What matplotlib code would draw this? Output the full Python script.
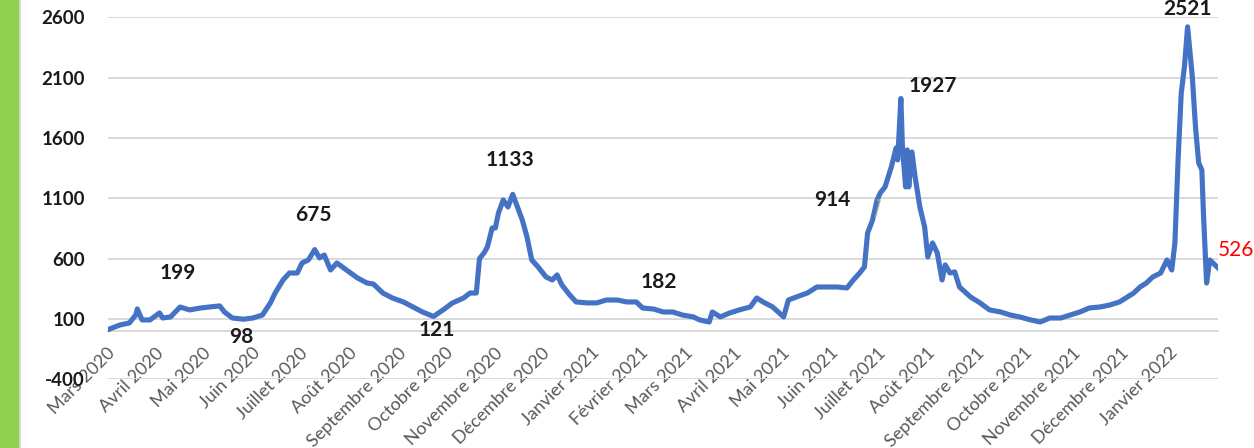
import matplotlib
matplotlib.use("Agg")
import matplotlib.pyplot as plt
import pandas as pd
from matplotlib.patches import Rectangle
from matplotlib.lines import Line2D

plt.rcParams['font.family'] = ['Lato', 'DejaVu Sans']

# ---- data (days counted from 1 March 2020, daily cases)
day = [-3, 5, 11, 15, 16, 19, 24, 30, 32, 37, 43, 49, 56, 62, 68, 71, 76, 83, 89, 95,
       100, 103, 108, 112, 117, 120, 124, 128, 131, 134, 138, 142, 148, 155, 161, 165,
       171, 177, 184, 190, 196, 203, 209, 215, 222, 226, 230, 232, 235, 237, 240, 242,
       244, 247, 250, 253, 256, 259, 262, 265, 269, 274, 278, 281, 284, 289, 293, 300,
       306, 312, 319, 325, 331, 335, 342, 348, 354, 360, 367, 371, 377, 379, 384, 390,
       396, 403, 407, 411, 417, 424, 427, 432, 439, 445, 451, 458, 464, 468, 472, 475,
       477, 480, 483, 485, 488, 490, 492, 495, 496, 498, 499, 501, 502, 503, 505, 507,
       510, 513, 515, 518, 521, 524, 526, 529, 532, 535, 542, 548, 554, 561, 567, 573,
       580, 586, 592, 599, 605, 611, 617, 624, 630, 636, 641, 645, 649, 653, 657, 662,
       666, 669, 671, 673, 675, 677, 679, 682, 684, 686, 688, 689, 691, 693, 695, 698]
cases = [9, 50, 67, 133, 183, 92, 92, 150, 108, 117, 199, 175, 191, 200, 208, 158, 108, 98, 108, 133,
         233, 315, 423, 481, 481, 564, 589, 675, 606, 630, 506, 564, 506, 440, 398, 390,
         315, 274, 241, 200, 158, 121, 175, 233, 274, 315, 315, 600, 650, 697, 854, 854,
         979, 1086, 1028, 1133, 1028, 921, 780, 589, 531, 448, 423, 465, 382, 299, 241, 233,
         233, 257, 257, 241, 241, 191, 182, 158, 158, 133, 117, 92, 75, 158, 117, 150,
         175, 200, 274, 241, 200, 117, 257, 282, 315, 365, 365, 365, 357, 423, 481, 531,
         813, 914, 1086, 1144, 1194, 1277, 1360, 1517, 1418, 1927, 1525, 1194, 1501, 1194, 1484, 1277,
         1028, 863, 614, 730, 647, 423, 548, 481, 490, 365, 282, 233, 175, 158, 133, 117,
         92, 75, 108, 108, 133, 158, 191, 200, 216, 241, 282, 315, 365, 398, 448, 481,
         589, 506, 730, 1418, 1973, 2188, 2521, 2106, 1691, 1393, 1335, 979, 398, 589, 564, 526]

month_labels = ['Mars 2020', 'Avril 2020', 'Mai 2020', 'Juin 2020', 'Juillet 2020', 'Août 2020',
                'Septembre 2020', 'Octobre 2020', 'Novembre 2020', 'Décembre 2020',
                'Janvier 2021', 'Février 2021', 'Mars 2021', 'Avril 2021', 'Mai 2021',
                'Juin 2021', 'Juillet 2021', 'Août 2021', 'Septembre 2021', 'Octobre 2021',
                'Novembre 2021', 'Décembre 2021', 'Janvier 2022']
y_ticks = [-400, 100, 600, 1100, 1600, 2100, 2600]

start = pd.Timestamp('2020-03-01')
month_starts = pd.date_range('2020-03-01', '2022-01-01', freq='MS')
tick_days = [(d - start).days for d in month_starts]

fig = plt.figure(figsize=(12.54, 4.48), dpi=100)
ax = fig.add_axes([108 / 1254, 1 - 379.3 / 448, (1218 - 108) / 1254, (379.3 - 17.3) / 448])

# left green band
fig.patches.append(Rectangle((0, 0), 19 / 1254, 1, transform=fig.transFigure,
                             color='#92D050', zorder=0))
fig.lines.append(Line2D([20 / 1254, 20 / 1254], [0, 1], transform=fig.transFigure,
                        color='#D9D9D9', lw=1.2))

ax.plot(day, cases, color='#4472C4', lw=3.7, solid_joinstyle='round', zorder=3)

ax.set_xlim(-2.5, 698.2)
ax.set_ylim(-400, 2600)
ax.set_yticks(y_ticks)
ax.set_yticklabels([str(v) for v in y_ticks], fontsize=13.5, fontweight='bold', color='#1a1a1a')
ax.grid(axis='y', color='#D9D9D9', lw=1.4)
ax.set_axisbelow(True)
for s in ['top', 'right', 'left']:
    ax.spines[s].set_visible(False)
ax.spines['bottom'].set_position(('data', 0))
ax.spines['bottom'].set_color('#D9D9D9')
ax.spines['bottom'].set_linewidth(1.4)
ax.tick_params(axis='y', length=0, pad=16.5)
ax.tick_params(axis='x', length=0, pad=14)
ax.set_xticks(tick_days)
ax.set_xticklabels(month_labels, rotation=45, ha='right', va='center',
                   rotation_mode='anchor', fontsize=13, color='#595959')

lab = dict(fontsize=15, fontweight='bold', color='#1a1a1a', ha='center', va='center')
ax.text(41.7, 481, '199', **lab)
ax.text(81.4, -49, '98', **lab)
ax.text(127, 962, '675', **lab)
ax.text(205, 9, '121', **lab)
ax.text(251, 1418, '1133', **lab)
ax.text(345, 407, '182', **lab)
ax.text(518, 2031, '1927', **lab)
ax.text(679, 2670, '2521', clip_on=False, **lab)
ax.annotate('914', xy=(482, 945), xytext=(455, 1086), textcoords='data',
            arrowprops=dict(arrowstyle='-', color='#A6A6A6', lw=1,
                            shrinkA=17, shrinkB=0,
                            connectionstyle='angle,angleA=0,angleB=75,rad=0'),
            **lab)
ax.text(709.6, 672, '526', fontsize=15, color='#FF0000', ha='center', va='center',
        clip_on=False)

fig.savefig('out.png', dpi=100)
